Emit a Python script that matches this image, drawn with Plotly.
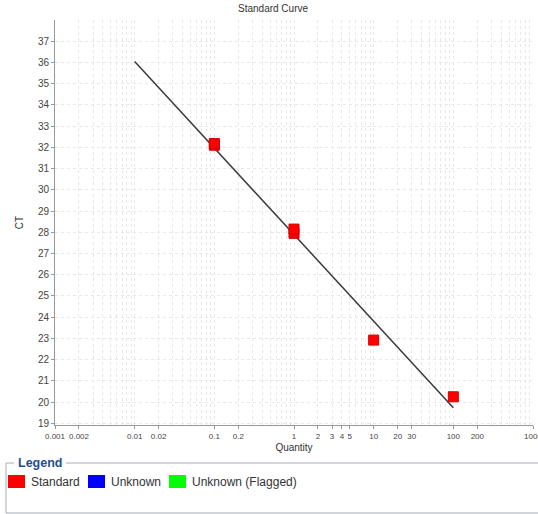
import plotly.graph_objects as go

# Data
std_quantity = [0.1, 0.1, 1, 1, 10, 100]
std_ct = [32.1, 32.18, 27.95, 28.15, 22.92, 20.25]
fit_quantity = [0.01, 100]
fit_ct = [36.05, 19.73]
x_tick_vals = [0.001, 0.002, 0.01, 0.02, 0.1, 0.2, 1, 2, 3, 4, 5, 10, 20, 30, 100, 200, 1000]
x_tick_text = ["0.001", "0.002", "0.01", "0.02", "0.1", "0.2", "1", "2", "3", "4", "5",
               "10", "20", "30", "100", "200", "1000"]
y_tick_vals = list(range(19, 38))
legend_labels = ["Standard", "Unknown", "Unknown (Flagged)"]
legend_colors = ["#ff0000", "#0000ff", "#00ff00"]

minor_vals = [m * 10 ** e for e in range(-3, 3) for m in range(1, 10)] + [1000]

W, H = 538, 514
L, R, T, B = 55, 5, 20, 89
pw, ph = W - L - R, H - T - B


def px(x):
    return (x - L) / pw


def py(y):
    return (H - B - y) / ph


fig = go.Figure()
fig.add_trace(go.Scatter(x=fit_quantity, y=fit_ct, mode="lines",
                         line=dict(color="#3a3a3a", width=1.5), showlegend=False))
fig.add_trace(go.Scatter(x=std_quantity, y=std_ct, mode="markers",
                         marker=dict(symbol="square", size=10, color="#ff0000",
                                     line=dict(color="#d00000", width=1)),
                         showlegend=False))

font = "Liberation Sans, Arial, sans-serif"
grid = "#e8e8e8"
fig.update_layout(
    width=W, height=H,
    margin=dict(l=L, r=R, t=T, b=B, autoexpand=False),
    paper_bgcolor="white", plot_bgcolor="white",
    font=dict(family=font, color="#333333"),
    showlegend=False,
    xaxis=dict(type="log", range=[-3, 3], tickvals=x_tick_vals, ticktext=x_tick_text,
               tickfont=dict(size=8, color="#444"), ticks="outside", ticklen=3,
               tickcolor="#999", showline=True, linecolor="#999", linewidth=1,
               ticklabeloverflow="allow",
               showgrid=True, gridcolor=grid, griddash="dot", gridwidth=1,
               minor=dict(tickvals=minor_vals, showgrid=True, gridcolor=grid,
                          griddash="dot", gridwidth=1, ticks=""),
               title=dict(text="Quantity", font=dict(size=10, color="#333"), standoff=4),
               zeroline=False, mirror=False),
    yaxis=dict(range=[18.92, 38.0], tickvals=y_tick_vals,
               tickfont=dict(size=10, color="#444"), ticks="outside", ticklen=3,
               tickcolor="#999", showline=True, linecolor="#999", linewidth=1,
               showgrid=True, gridcolor=grid, griddash="dot", gridwidth=1,
               title=dict(text="CT", font=dict(size=10, color="#333"), standoff=12),
               zeroline=False),
)

# Title
fig.add_annotation(text="Standard Curve", xref="paper", yref="paper",
                   x=px(273), y=py(9), xanchor="center", yanchor="middle", showarrow=False,
                   font=dict(size=10, color="#333", family=font))

# Legend box
border = "#a6adb5"
fig.add_shape(type="line", xref="paper", yref="paper", x0=px(6), x1=px(6),
              y0=py(463), y1=py(513), line=dict(color=border, width=1))
fig.add_shape(type="line", xref="paper", yref="paper", x0=px(6), x1=px(538),
              y0=py(513), y1=py(513), line=dict(color=border, width=1))
fig.add_shape(type="line", xref="paper", yref="paper", x0=px(6), x1=px(14),
              y0=py(463), y1=py(463), line=dict(color=border, width=1))
fig.add_shape(type="line", xref="paper", yref="paper", x0=px(66), x1=px(538),
              y0=py(463), y1=py(463), line=dict(color=border, width=1))
fig.add_annotation(text="<b>Legend</b>", xref="paper", yref="paper",
                   x=px(16), y=py(463), xanchor="left", yanchor="middle", showarrow=False,
                   font=dict(size=12.5, color="#1f4f8f", family=font))

sq_x = [8, 88, 169]
for sx, lab, col in zip(sq_x, legend_labels, legend_colors):
    fig.add_shape(type="rect", xref="paper", yref="paper",
                  x0=px(sx), x1=px(sx + 17), y0=py(475), y1=py(488),
                  fillcolor=col, line=dict(color=col, width=0))
    fig.add_annotation(text=lab, xref="paper", yref="paper",
                       x=px(sx + 21), y=py(481.5), xanchor="left", yanchor="middle",
                       showarrow=False, font=dict(size=12, color="#333", family=font))

fig.write_html("out.html", config={"displayModeBar": False},
               post_script="document.body.style.margin='0';document.body.style.overflow='hidden';")
